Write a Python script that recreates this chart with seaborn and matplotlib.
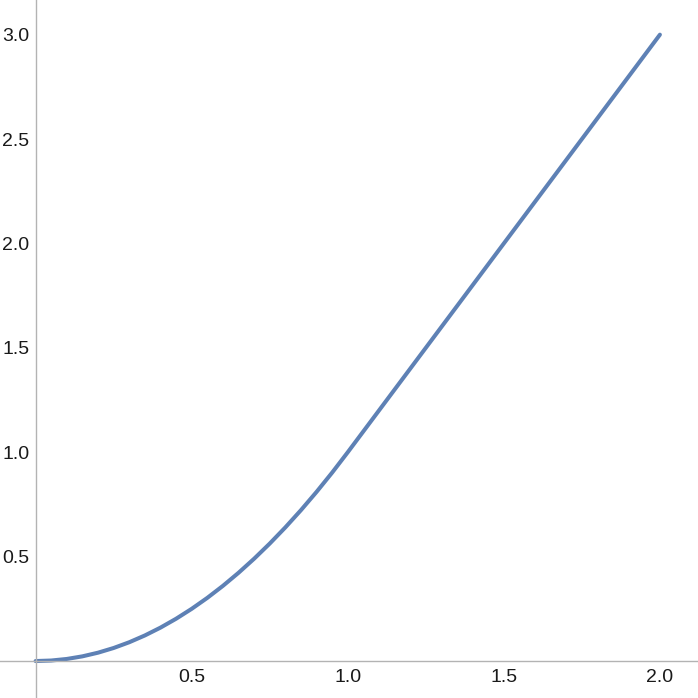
import numpy as np
import pandas as pd
import matplotlib.pyplot as plt
import seaborn as sns
from matplotlib.ticker import MultipleLocator, FixedLocator

# values
x_vals = [0.0, 0.05, 0.1, 0.15, 0.2, 0.25, 0.3, 0.35, 0.4, 0.45, 0.5,
          0.55, 0.6, 0.65, 0.7, 0.75, 0.8, 0.85, 0.9, 0.95, 1.0,
          1.1, 1.2, 1.3, 1.4, 1.5, 1.6, 1.7, 1.8, 1.9, 2.0]
y_vals = [0.0, 0.0025, 0.01, 0.0225, 0.04, 0.0625, 0.09, 0.1225, 0.16, 0.2025, 0.25,
          0.3025, 0.36, 0.4225, 0.49, 0.5625, 0.64, 0.7225, 0.81, 0.9025, 1.0,
          1.2, 1.4, 1.6, 1.8, 2.0, 2.2, 2.4, 2.6, 2.8, 3.0]

x_ticks = [0.5, 1.0, 1.5, 2.0]
y_ticks = [0.5, 1.0, 1.5, 2.0, 2.5, 3.0]

sns.set_style("white")
plt.rcParams['font.family'] = ['Liberation Sans', 'DejaVu Sans']

df = pd.DataFrame({"x": x_vals, "y": y_vals})

fig = plt.figure(figsize=(6.98, 6.98), dpi=100)
ax = fig.add_axes([0, 0, 1, 1])
sns.lineplot(data=df, x="x", y="y", ax=ax, color="#5E81B5", linewidth=2.9)

ax.set_xlim(-0.114, 2.122)
ax.set_ylim(-0.177, 3.166)
ax.set_xlabel("")
ax.set_ylabel("")

axis_col = "#b3b3b3"
for side in ["top", "right"]:
    ax.spines[side].set_visible(False)
ax.spines["left"].set_position(("data", 0))
ax.spines["bottom"].set_position(("data", 0))
for side in ["left", "bottom"]:
    ax.spines[side].set_color(axis_col)
    ax.spines[side].set_linewidth(1.0)

ax.xaxis.set_major_locator(FixedLocator(x_ticks))
ax.yaxis.set_major_locator(FixedLocator(y_ticks))
ax.xaxis.set_minor_locator(MultipleLocator(0.1))
ax.yaxis.set_minor_locator(MultipleLocator(0.1))
ax.set_xticklabels([f"{v:.1f}" for v in x_ticks])
ax.set_yticklabels([f"{v:.1f}" for v in y_ticks])

ax.tick_params(which="both", direction="in", color=axis_col, width=0.9,
               labelsize=14, labelcolor="#1a1a1a")
ax.tick_params(which="major", length=4.5)
ax.tick_params(axis="x", which="major", pad=6)
ax.tick_params(axis="y", which="major", pad=4.5)
ax.tick_params(which="minor", length=2.5)

fig.savefig("out.png", dpi=100)
